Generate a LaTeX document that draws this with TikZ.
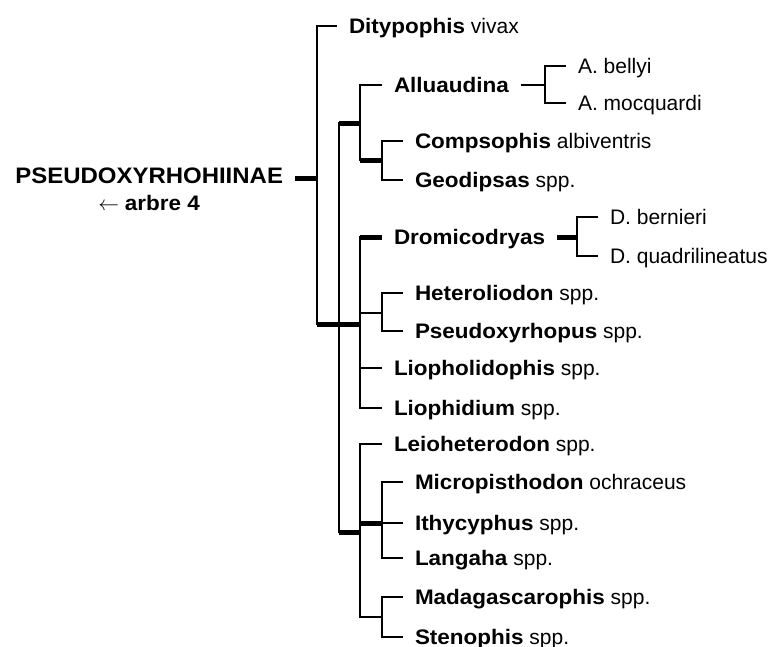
\documentclass[tikz,border=0pt]{standalone}
\usepackage{fontspec}
\setmainfont{Liberation Sans}[BoldFeatures={FakeStretch=1.07}]
\usetikzlibrary{positioning}
\newcommand{\gen}[1]{\textbf{#1}}
\tikzset{
  br/.style={line width=1.6pt,black},
  brthick/.style={line width=5pt,black},
  taxon/.style={anchor=west,inner xsep=12pt,inner ysep=0pt,outer sep=0pt,
                text height=15pt,text depth=0pt,font=\fontsize{21}{25}\selectfont},
  grp/.style={taxon,anchor=east,text height=10pt,font=\fontsize{22.4}{26}\selectfont\bfseries},
}
\begin{document}
\begin{tikzpicture}[x=1pt,y=-1pt]
    \useasboundingbox (0,0) rectangle (770,646);

    % sous-famille
    \node[grp] (pseudo) at (295,178) {PSEUDOXYRHOHIINAE};
    \node[taxon,inner xsep=0pt,below=12pt of pseudo] (arbre) {$\leftarrow$ \gen{arbre 4}};

    % noeuds internes
    \coordinate (n0) at (317,178);
    \coordinate (n1) at (339,324);
    \coordinate (nA) at (360,123);
    \coordinate (nCG) at (382,160);
    \coordinate (nAl) at (545,85);
    \coordinate (nB) at (360,324);
    \coordinate (nD) at (577,237);
    \coordinate (nHP) at (382,313);
    \coordinate (nC) at (360,532);
    \coordinate (nM) at (382,523);
    \coordinate (nMS) at (382,617);

    % taxons
    \node[taxon] (ditypo) at (337,26) {\gen{Ditypophis} vivax};
    \node[taxon] (alluau) at (382,85) {\gen{Alluaudina}};
    \node[taxon] (bellyi) at (566,66) {A. bellyi};
    \node[taxon] (mocq) at (566,103) {A. mocquardi};
    \node[taxon] (compso) at (403,141) {\gen{Compsophis} albiventris};
    \node[taxon] (geodip) at (403,180) {\gen{Geodipsas} spp.};
    \node[taxon] (dromico) at (382,237) {\gen{Dromicodryas}};
    \node[taxon] (bernieri) at (598,217) {D. bernieri};
    \node[taxon] (quadri) at (598,256) {D. quadrilineatus};
    \node[taxon] (hetero) at (403,293) {\gen{Heteroliodon} spp.};
    \node[taxon] (pseudoxy) at (403,331) {\gen{Pseudoxyrhopus} spp.};
    \node[taxon] (liophol) at (382,368) {\gen{Liopholidophis} spp.};
    \node[taxon] (liophid) at (382,408) {\gen{Liophidium} spp.};
    \node[taxon] (leio) at (382,444) {\gen{Leioheterodon} spp.};
    \node[taxon] (micro) at (403,482) {\gen{Micropisthodon} ochraceus};
    \node[taxon] (ithy) at (403,523) {\gen{Ithycyphus} spp.};
    \node[taxon] (langaha) at (403,558) {\gen{Langaha} spp.};
    \node[taxon] (madag) at (403,597) {\gen{Madagascarophis} spp.};
    \node[taxon] (steno) at (403,637) {\gen{Stenophis} spp.};

    % branches
    \draw[brthick] (pseudo) -- (n0);
    \draw[br] (n0) |- (ditypo);
    \draw[br] (n0) |- (n1);
    \draw[brthick] (n0 |- n1) -- (n1);

    \draw[br] (n1) |- (nA);
    \draw[br] (n1) |- (nC);
    \draw[brthick] (n1 |- nA) -- (nA);
    \draw[brthick] (n1) -- (nB);
    \draw[brthick] (n1 |- nC) -- (nC);

    \draw[br] (nA) |- (alluau);
    \draw[br] (nA) |- (nCG);
    \draw[brthick] (nA |- nCG) -- (nCG);
    \draw[br] (alluau) -- (nAl);
    \draw[br] (nAl) |- (bellyi);
    \draw[br] (nAl) |- (mocq);
    \draw[br] (nCG) |- (compso);
    \draw[br] (nCG) |- (geodip);

    \draw[br] (nB) |- (dromico);
    \draw[brthick] (nB |- dromico) -- (dromico);
    \draw[brthick] (dromico) -- (nD);
    \draw[br] (nD) |- (bernieri);
    \draw[br] (nD) |- (quadri);
    \draw[br] (nB) |- (nHP);
    \draw[br] (nHP) |- (hetero);
    \draw[br] (nHP) |- (pseudoxy);
    \draw[br] (nB) |- (liophol);
    \draw[br] (nB) |- (liophid);

    \draw[br] (nC) |- (leio);
    \draw[br] (nC) |- (nM);
    \draw[brthick] (nC |- nM) -- (nM);
    \draw[br] (nC) |- (nMS);
    \draw[br] (nM) |- (micro);
    \draw[br] (nM) -- (ithy);
    \draw[br] (nM) |- (langaha);
    \draw[br] (nMS) |- (madag);
    \draw[br] (nMS) |- (steno);
\end{tikzpicture}
\end{document}
